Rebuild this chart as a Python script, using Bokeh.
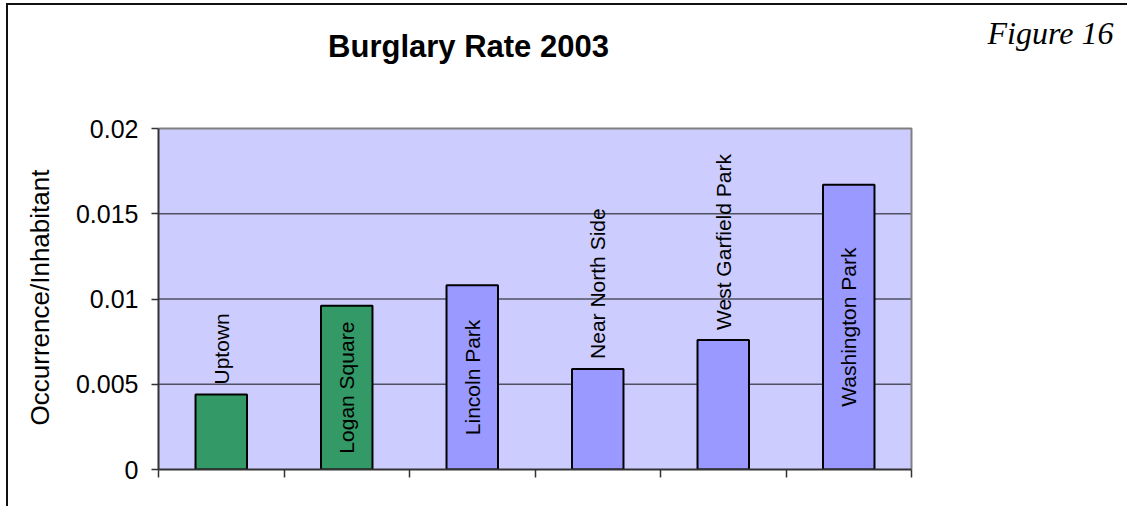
import numpy as np
from bokeh.plotting import figure
from bokeh.layouts import column
from bokeh.models import Range1d, FixedTicker, ColumnDataSource
from bokeh.embed import file_html
from bokeh.resources import INLINE
from bokeh.core.properties import value

# ---- data ----
neighborhoods = ["Uptown", "Logan Square", "Lincoln Park", "Near North Side",
                 "West Garfield Park", "Washington Park"]
burglary_rate = [0.0044, 0.0096, 0.0108, 0.0059, 0.0076, 0.0167]
bar_colors = ["#339966", "#339966", "#9999FF", "#9999FF", "#9999FF", "#9999FF"]
y_ticks = [0, 0.005, 0.01, 0.015, 0.02]
y_tick_labels = ["0", "0.005", "0.01", "0.015", "0.02"]
title_text = "Burglary Rate 2003"
figure_note = "Figure 16"
y_axis_title = "Occurrence/Inhabitant"

FONT = "Liberation Sans"
n = len(neighborhoods)
Y_MAX = y_ticks[-1]

# ---- page layout (pixels) ----
OX, OY = 8, 5                       # offset of the layout on the page (margin + border)
PAGE_W, PAGE_H = 1127, 506
W = PAGE_W - OX
SPLIT = 98                          # page y where the title strip ends
PA_L, PA_R, PA_T, PA_B = 158, 911, 128, 469   # plot-area box on the page
FR_T = 125                          # top of the chart frame on the page

# ---- title strip (page-pixel coordinates) ----
head = figure(width=W, height=SPLIT - OY, output_backend="svg", toolbar_location=None,
              x_range=Range1d(PA_L, PAGE_W), y_range=Range1d(SPLIT, OY),
              x_axis_type=None, y_axis_type=None,
              min_border_left=PA_L - OX, min_border_right=0,
              min_border_top=0, min_border_bottom=0)
head.outline_line_color = None
head.grid.visible = False
head.background_fill_color = "white"
head.border_fill_color = "white"
head.text(x=[468], y=[46], text=[title_text],
          text_align="center", text_baseline="alphabetic",
          text_font=value(FONT), text_font_size="31px", text_font_style="bold",
          text_color="black")
head.text(x=[1050], y=[32], text=[figure_note],
          text_align="center", text_baseline="alphabetic",
          text_font=value("Liberation Serif"), text_font_size="32px",
          text_font_style="italic", text_color="black")

# ---- main chart ----
xs = [i + 0.5 for i in range(n)]
inside = [v >= 0.009 for v in burglary_rate]

bars = ColumnDataSource(dict(x=xs, top=burglary_rate, color=bar_colors, name=neighborhoods))
lab_in = ColumnDataSource(dict(
    x=[x for x, f in zip(xs, inside) if f],
    y=[v / 2 for v, f in zip(burglary_rate, inside) if f],
    text=[t for t, f in zip(neighborhoods, inside) if f]))
lab_out = ColumnDataSource(dict(
    x=[x for x, f in zip(xs, inside) if not f],
    y=[v for v, f in zip(burglary_rate, inside) if not f],
    text=[t for t, f in zip(neighborhoods, inside) if not f]))

x_end = n * (PAGE_W - PA_L) / (PA_R - PA_L)
y_end = Y_MAX * (PA_B - FR_T) / (PA_B - PA_T)

p = figure(width=W, height=PAGE_H - SPLIT, output_backend="svg", toolbar_location=None,
           x_range=Range1d(0, x_end), y_range=Range1d(0, y_end),
           min_border_left=PA_L - OX, min_border_right=0,
           min_border_top=FR_T - SPLIT, min_border_bottom=PAGE_H - PA_B)

p.background_fill_color = "white"
p.border_fill_color = "white"
p.outline_line_color = None
p.grid.visible = False

# plot area: background, gridlines, top/right border
p.quad(left=0, right=n, bottom=0, top=Y_MAX, fill_color="#CCCCFF", line_color=None)
inner = y_ticks[1:-1]
p.segment(x0=[0] * len(inner), x1=[n] * len(inner), y0=inner, y1=inner,
          line_color="#505060", line_width=1.5)
p.line(x=[0, n, n], y=[Y_MAX, Y_MAX, 0], line_color="#808080", line_width=2)

p.vbar(x="x", top="top", bottom=0, width=0.41, source=bars,
       fill_color="color", line_color="black", line_width=2)

p.text(x="x", y="y", text="text", source=lab_in, angle=np.pi / 2,
       text_align="center", text_baseline="middle",
       text_font=value(FONT), text_font_size="21px", text_color="black")
p.text(x="x", y="y", text="text", source=lab_out, angle=np.pi / 2,
       text_align="left", text_baseline="middle", y_offset=-10,
       text_font=value(FONT), text_font_size="21px", text_color="black")

# y axis
p.yaxis.bounds = (0, Y_MAX)
p.yaxis.ticker = FixedTicker(ticks=y_ticks)
p.yaxis.major_label_overrides = {t: l for t, l in zip(y_ticks, y_tick_labels)}
p.yaxis.major_label_text_font = FONT
p.yaxis.major_label_text_font_size = "25px"
p.yaxis.major_label_text_color = "black"
p.yaxis.major_label_standoff = 13
p.yaxis.major_tick_in = 0
p.yaxis.major_tick_out = 7
p.yaxis.minor_tick_line_color = None
p.yaxis.axis_line_color = "#333333"
p.yaxis.axis_line_width = 2
p.yaxis.major_tick_line_color = "#333333"
p.yaxis.major_tick_line_width = 1.5
p.yaxis.axis_label = y_axis_title
p.yaxis.axis_label_text_font = FONT
p.yaxis.axis_label_text_font_size = "26px"
p.yaxis.axis_label_text_font_style = "normal"
p.yaxis.axis_label_text_color = "black"
p.yaxis.axis_label_standoff = 18

# x axis: only tick marks at category boundaries (minor ticks carry no labels)
p.xaxis.bounds = (0, n)
p.xaxis.ticker = FixedTicker(ticks=[], minor_ticks=list(range(n + 1)))
p.xaxis.major_tick_line_color = None
p.xaxis.minor_tick_in = 0
p.xaxis.minor_tick_out = 8
p.xaxis.minor_tick_line_color = "#333333"
p.xaxis.minor_tick_line_width = 1.5
p.xaxis.axis_line_color = "#333333"
p.xaxis.axis_line_width = 2

layout = column(head, p, spacing=0)
layout.styles = {"border-top": "2px solid #111111", "border-left": "2px solid #111111",
                 "margin-left": "6px", "margin-top": "3px"}

open("out.html", "w").write(file_html(layout, INLINE))
